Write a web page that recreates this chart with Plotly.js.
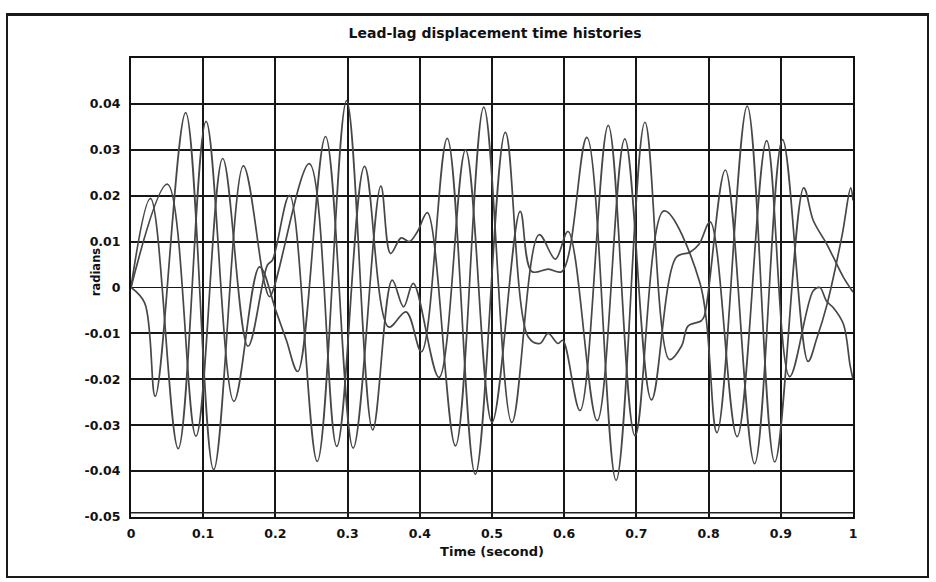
<!DOCTYPE html>
<html>
<head>
<meta charset="utf-8">
<script src="https://cdn.plot.ly/plotly-3.0.1.min.js"></script>
<style>
  html, body { margin: 0; padding: 0; background: #fff; }
  #chart { width: 936px; height: 582px; }
  #frame {
    position: absolute; left: 6px; top: 13px; width: 919px; height: 560px;
    border: 2px solid #1a1a1a; border-top-width: 3px; pointer-events: none;
  }
</style>
</head>
<body>
<div id="chart"></div>
<div id="frame"></div>
<script>
// Lead-lag angle (rad) of the three blades, sampled at turning points and
// along the quiet stretches between the beats.
const timeBlade1 = [
  0, 0.027, 0.0654, 0.104, 0.1425, 0.178, 0.201, 0.215, 0.231, 0.2694,
  0.3077, 0.346, 0.3595, 0.3742, 0.3855, 0.3968, 0.4105, 0.4494, 0.4886, 0.5275,
  0.5652, 0.5878, 0.6053, 0.6457, 0.6839, 0.7208, 0.7552, 0.7742, 0.787, 0.8022,
  0.8395, 0.8804, 0.9122, 0.945, 0.954, 0.9635, 0.9728, 0.9868, 0.9958, 1.0
];
const lagBlade1 = [
  0, 0.0194, -0.0351, 0.0362, -0.0248, 0.0045, -0.0052, -0.0114, -0.0183, 0.0329,
  -0.0350, 0.0221, 0.0074, 0.0108, 0.0100, 0.0122, 0.0163, -0.0345, 0.0393, -0.0294,
  0.0115, 0.0062, 0.0122, -0.0290, 0.0324, -0.0245, 0.0066, 0.0077, 0.0095, 0.0143,
  -0.0325, 0.0320, -0.0194, -0.0007, 0.0, -0.0030, -0.0044, -0.0080, -0.0168, -0.0200
];

const timeBlade2 = [
  0, 0.019, 0.0336, 0.0757, 0.1145, 0.1556, 0.185, 0.192, 0.247, 0.285,
  0.3234, 0.357, 0.381, 0.4023, 0.438, 0.4769, 0.5184, 0.5503, 0.5664, 0.5778,
  0.5915, 0.598, 0.6219, 0.661, 0.6981, 0.738, 0.7878, 0.8116, 0.8535, 0.8916,
  0.9317, 0.945, 0.9635, 0.9728, 0.9868, 1.0
];
const lagBlade2 = [
  0, -0.0034, -0.0237, 0.0381, -0.0397, 0.0265, 0.0009, -0.0020, 0.0270, -0.0346,
  0.0264, -0.0086, -0.0053, -0.0140, 0.0325, -0.0407, 0.0338, -0.0108, -0.0122, -0.0100,
  -0.0122, -0.0115, -0.0268, 0.0353, -0.0323, 0.0167, 0.0011, -0.0316, 0.0395, -0.0380,
  0.0217, 0.0146, 0.0095, 0.0066, 0.0022, -0.0010
];

const timeBlade3 = [
  0, 0.0505, 0.090, 0.127, 0.162, 0.189, 0.196, 0.2196, 0.258, 0.2986,
  0.3347, 0.3617, 0.3775, 0.391, 0.4266, 0.4634, 0.500, 0.539, 0.555, 0.578,
  0.597, 0.6314, 0.6719, 0.7118, 0.7457, 0.7624, 0.7715, 0.7895, 0.7941, 0.8232,
  0.8637, 0.9024, 0.9377, 0.95, 0.9635, 0.9848, 0.9968, 1.0
];
const lagBlade3 = [
  0, 0.0225, -0.0324, 0.0281, -0.0128, 0.0049, 0.0060, 0.0201, -0.0379, 0.0407,
  -0.0310, 0.0016, -0.0042, 0.0009, -0.0196, 0.0300, -0.0294, 0.0166, 0.0035, 0.0040,
  0.0035, 0.0327, -0.0420, 0.0360, -0.0157, -0.0128, -0.0084, -0.0073, -0.0062, 0.0256,
  -0.0384, 0.0322, -0.0161, -0.0110, -0.0040, 0.0113, 0.0217, 0.0190
];

const xTicks = [0, 0.1, 0.2, 0.3, 0.4, 0.5, 0.6, 0.7, 0.8, 0.9, 1];
const xTickText = ['0', '0.1', '0.2', '0.3', '0.4', '0.5', '0.6', '0.7', '0.8', '0.9', '1'];
const yTicks = [-0.05, -0.04, -0.03, -0.02, -0.01, 0, 0.01, 0.02, 0.03, 0.04];
const yTickText = ['-0.05', '-0.04', '-0.03', '-0.02', '-0.01', '0', '0.01', '0.02', '0.03', '0.04'];

const ink = '#111111';
const boldFont = (size) => ({ family: 'DejaVu Sans, Arial, sans-serif', size: size, color: ink, weight: 'bold' });
const curveStyle = { color: '#474747', width: 1.7, shape: 'spline', smoothing: 1 };

const blade = (x, y, name) => ({ x: x, y: y, type: 'scatter', mode: 'lines', line: curveStyle, name: name });
const traces = [
  blade(timeBlade1, lagBlade1, 'blade 1'),
  blade(timeBlade2, lagBlade2, 'blade 2'),
  blade(timeBlade3, lagBlade3, 'blade 3')
];

const axisCommon = {
  showgrid: true, gridcolor: '#161616', gridwidth: 1.9,
  showline: true, mirror: true, linecolor: ink, linewidth: 2,
  zeroline: false, ticks: '', tickfont: boldFont(12.5), fixedrange: true
};

const layout = {
  width: 936, height: 582,
  margin: { l: 131, r: 83, t: 58, b: 65 },
  paper_bgcolor: '#ffffff', plot_bgcolor: '#ffffff',
  showlegend: false,
  title: {
    text: 'Lead-lag displacement time histories',
    xref: 'container', yref: 'container', x: 0.529, y: 0.943,
    xanchor: 'center', yanchor: 'middle', font: boldFont(14)
  },
  xaxis: Object.assign({}, axisCommon, {
    range: [0, 1], tickvals: xTicks, ticktext: xTickText, ticklabelstandoff: 4,
    title: { text: 'Time (second)', standoff: 7, font: boldFont(13) }
  }),
  yaxis: Object.assign({}, axisCommon, {
    range: [-0.05, 0.05], tickvals: yTicks, ticktext: yTickText, ticklabelstandoff: 6
  }),
  annotations: [{
    text: 'radians', textangle: -90, xref: 'paper', yref: 'paper',
    x: -0.048, y: 0.534, xanchor: 'center', yanchor: 'middle',
    showarrow: false, font: boldFont(11.5)
  }],
  shapes: [{
    type: 'line', xref: 'paper', yref: 'y', x0: 0, x1: 1, y0: -0.0491, y1: -0.0491,
    line: { color: '#222', width: 1.5 }, layer: 'above'
  }]
};

Plotly.newPlot('chart', traces, layout, { displayModeBar: false, staticPlot: true });
</script>
</body>
</html>
